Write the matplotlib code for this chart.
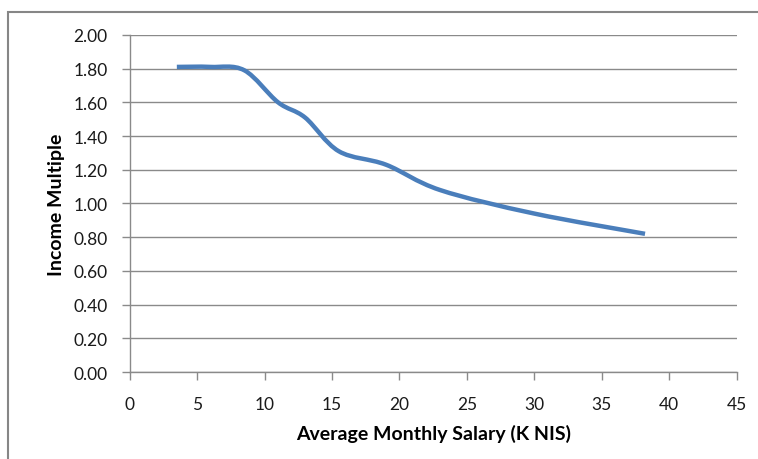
import numpy as np
import matplotlib
matplotlib.use("Agg")
import matplotlib.pyplot as plt
from matplotlib.path import Path
from matplotlib.patches import PathPatch, Rectangle

# data (smoothed line knots)
salary = [3.5, 6, 8.5, 11, 13, 15.5, 19, 23, 30, 38.2]
multiple = [1.81, 1.81, 1.79, 1.60, 1.51, 1.31, 1.23, 1.08, 0.94, 0.82]

x_ticks = np.arange(0, 46, 5)
y_ticks = np.arange(0, 2.01, 0.2)

plt.rcParams['font.family'] = ['Lato', 'DejaVu Sans']


def smooth_path(xs, ys):
    # Excel-like smoothed line: cubic bezier with catmull-rom control points
    p = np.column_stack([xs, ys]).astype(float)
    n = len(p)
    verts = [p[0]]
    codes = [Path.MOVETO]
    for i in range(n - 1):
        p0 = p[i - 1] if i > 0 else p[i]
        p1 = p[i]
        p2 = p[i + 1]
        p3 = p[i + 2] if i + 2 < n else p[i + 1]
        c1 = p1 + (p2 - p0) / 6.0
        c2 = p2 - (p3 - p1) / 6.0
        verts += [c1, c2, p2]
        codes += [Path.CURVE4] * 3
    return Path(verts, codes)


fig = plt.figure(figsize=(7.58, 4.60), dpi=100)
ax = fig.add_axes([0.171, 0.189, 0.801, 0.733])

# outer chart frame (cut off at right and bottom like the screenshot)
fig.patches.append(Rectangle((0.0106, -0.1), 1.2, 1.0717, transform=fig.transFigure,
                             fill=False, edgecolor='#868686', lw=1.5))

grid_col = '#8a8a8a'
ax.set_xlim(0, 45)
ax.set_ylim(0, 2.0)
ax.set_xticks(x_ticks)
ax.set_yticks(y_ticks)
ax.set_yticklabels([f"{v:.2f}" for v in y_ticks])
ax.yaxis.grid(True, color=grid_col, lw=1)
ax.set_axisbelow(True)

for s in ['top', 'right']:
    ax.spines[s].set_visible(False)
for s in ['left', 'bottom']:
    ax.spines[s].set_color(grid_col)
    ax.spines[s].set_linewidth(1)

ax.tick_params(axis='both', colors=grid_col, length=6, width=1, direction='out',
               labelcolor='#1a1a1a', labelsize=12.5)
ax.tick_params(axis='x', pad=11)
ax.tick_params(axis='y', pad=10)

patch = PathPatch(smooth_path(salary, multiple), fill=False, edgecolor='#4A7EBB',
                  lw=3.2, capstyle='butt', joinstyle='round')
ax.add_patch(patch)

ax.set_xlabel('Average Monthly Salary (K NIS)', fontsize=14, fontweight='bold', labelpad=9)
ax.set_ylabel('Income Multiple', fontsize=14, fontweight='bold', labelpad=6)

fig.savefig('out.png', dpi=100)
